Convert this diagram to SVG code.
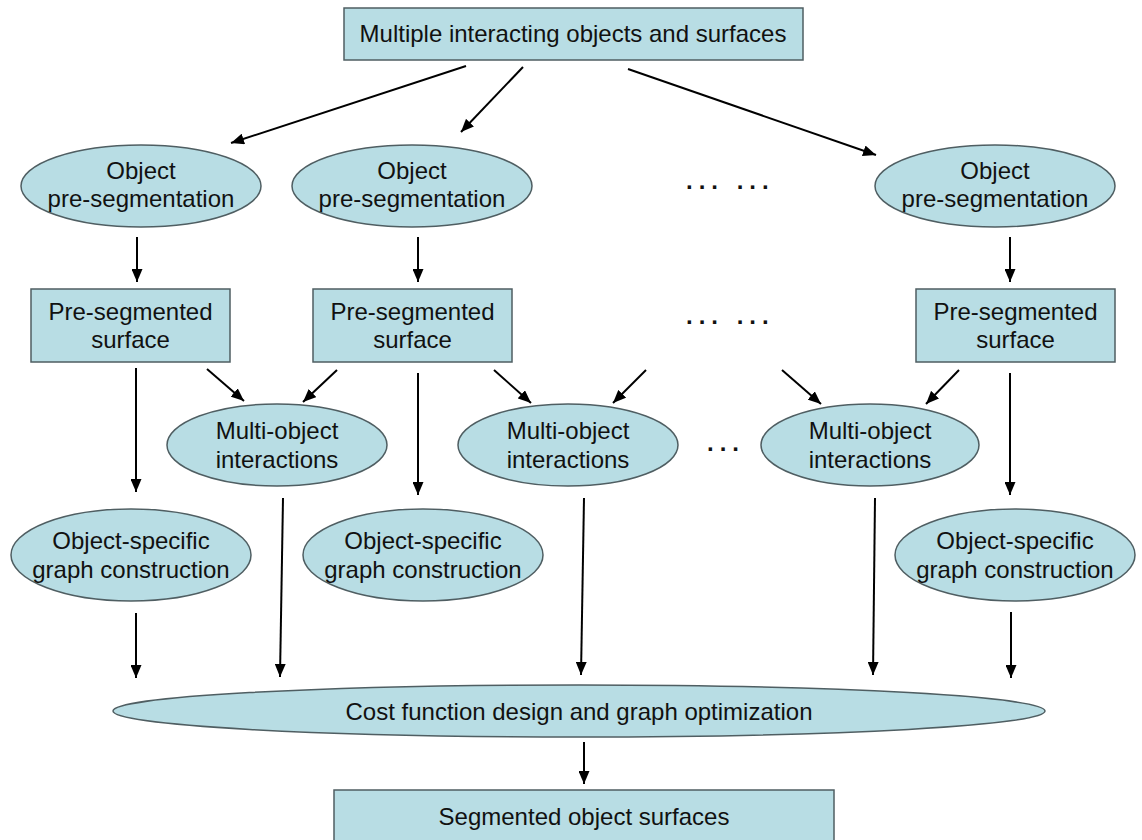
<svg xmlns="http://www.w3.org/2000/svg" width="1142" height="840" viewBox="0 0 1142 840">
<defs>
<marker id="ah" markerUnits="userSpaceOnUse" markerWidth="13" markerHeight="11" refX="13" refY="5.5" orient="auto">
<path d="M0,0 L13,5.5 L0,11 z" fill="#000"/>
</marker>
<style>
.n{fill:#b8dde4;stroke:#4f5e62;stroke-width:1.5}
.t{font-family:"Liberation Sans",Arial,sans-serif;font-size:24px;fill:#111;text-anchor:middle}
.c line{stroke:#000;stroke-width:2;marker-end:url(#ah)}
.d{font-family:"Liberation Sans",Arial,sans-serif;font-size:24px;font-weight:bold;fill:#111;letter-spacing:6px}
</style>
</defs>
<rect width="1142" height="840" fill="#fff"/>
<g id="top"><rect class="n" x="344" y="8" width="459" height="52"/><text class="t" x="573" y="42">Multiple interacting objects and surfaces</text></g>
<g id="op1"><ellipse class="n" cx="141" cy="186" rx="120" ry="41"/><text class="t" x="141" y="179">Object</text><text class="t" x="141" y="207">pre-segmentation</text></g>
<g id="op2"><ellipse class="n" cx="412" cy="186" rx="120" ry="41"/><text class="t" x="412" y="179">Object</text><text class="t" x="412" y="207">pre-segmentation</text></g>
<g id="op3"><ellipse class="n" cx="995" cy="186" rx="120" ry="41"/><text class="t" x="995" y="179">Object</text><text class="t" x="995" y="207">pre-segmentation</text></g>
<g id="dots1"><text class="d" x="686" y="189">... ...</text></g>
<g id="ps1"><rect class="n" x="31" y="289" width="199" height="73"/><text class="t" x="130.5" y="320">Pre-segmented</text><text class="t" x="130.5" y="348">surface</text></g>
<g id="ps2"><rect class="n" x="313" y="289" width="199" height="73"/><text class="t" x="412.5" y="320">Pre-segmented</text><text class="t" x="412.5" y="348">surface</text></g>
<g id="ps3"><rect class="n" x="916" y="289" width="199" height="73"/><text class="t" x="1015.5" y="320">Pre-segmented</text><text class="t" x="1015.5" y="348">surface</text></g>
<g id="dots2"><text class="d" x="686" y="324">... ...</text></g>
<g id="mo1"><ellipse class="n" cx="277" cy="445" rx="110" ry="41"/><text class="t" x="277" y="439">Multi-object</text><text class="t" x="277" y="468">interactions</text></g>
<g id="mo2"><ellipse class="n" cx="568" cy="445" rx="110" ry="41"/><text class="t" x="568" y="439">Multi-object</text><text class="t" x="568" y="468">interactions</text></g>
<g id="mo3"><ellipse class="n" cx="870" cy="445" rx="109" ry="41"/><text class="t" x="870" y="439">Multi-object</text><text class="t" x="870" y="468">interactions</text></g>
<g id="dots3"><text class="d" x="707" y="451">...</text></g>
<g id="os1"><ellipse class="n" cx="131" cy="555" rx="120" ry="46"/><text class="t" x="131" y="549">Object-specific</text><text class="t" x="131" y="578">graph construction</text></g>
<g id="os2"><ellipse class="n" cx="423" cy="555" rx="120" ry="46"/><text class="t" x="423" y="549">Object-specific</text><text class="t" x="423" y="578">graph construction</text></g>
<g id="os3"><ellipse class="n" cx="1015" cy="555" rx="120" ry="46"/><text class="t" x="1015" y="549">Object-specific</text><text class="t" x="1015" y="578">graph construction</text></g>
<g id="cost"><ellipse class="n" cx="579" cy="711" rx="466" ry="26"/><text class="t" x="579" y="720">Cost function design and graph optimization</text></g>
<g id="out"><rect class="n" x="334" y="790" width="500" height="56"/><text class="t" x="584" y="825">Segmented object surfaces</text></g>
<g id="connectors" class="c">
<line x1="466" y1="66" x2="231" y2="143"/>
<line x1="523" y1="67" x2="461" y2="132"/>
<line x1="628" y1="69" x2="876" y2="155"/>
<line x1="137" y1="237" x2="137" y2="282"/>
<line x1="418" y1="237" x2="418" y2="282"/>
<line x1="1010" y1="237" x2="1010" y2="282"/>
<line x1="136" y1="368" x2="136" y2="492"/>
<line x1="418" y1="373" x2="418" y2="495"/>
<line x1="1010" y1="373" x2="1010" y2="495"/>
<line x1="207" y1="369" x2="244" y2="401"/>
<line x1="337" y1="370" x2="303" y2="402"/>
<line x1="494" y1="370" x2="531" y2="403"/>
<line x1="646" y1="370" x2="613" y2="403"/>
<line x1="782" y1="370" x2="821" y2="404"/>
<line x1="959" y1="370" x2="926" y2="404"/>
<line x1="283" y1="498" x2="280" y2="677"/>
<line x1="584" y1="498" x2="581" y2="675"/>
<line x1="875" y1="498" x2="873" y2="675"/>
<line x1="136" y1="613" x2="136" y2="678"/>
<line x1="1011" y1="612" x2="1011" y2="678"/>
<line x1="584" y1="742" x2="584" y2="784"/>
</g>
</svg>
